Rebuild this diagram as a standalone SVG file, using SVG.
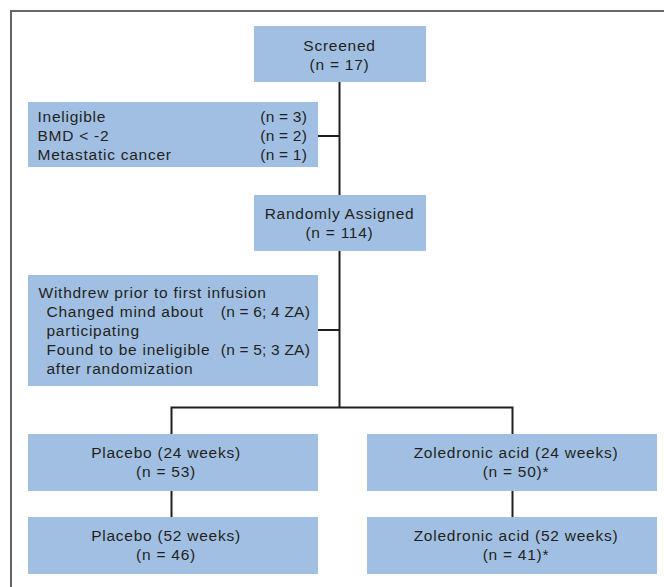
<svg xmlns="http://www.w3.org/2000/svg" width="664" height="587" viewBox="0 0 664 587">
<style>
.box{fill:#a1bfe2}
text{font-family:"Liberation Sans",Arial,sans-serif;font-size:15.5px;fill:#231f20;letter-spacing:0.75px}
.c{text-anchor:middle}
.e{text-anchor:end}
.n{letter-spacing:0.2px}
.ln{stroke:#231f20;stroke-width:2;fill:none}
</style>
<rect width="664" height="587" fill="#ffffff"/>
<path d="M11,587 V11 H664" stroke="#666666" stroke-width="2" fill="none"/>
<g id="connectors">
<path class="ln" d="M339.5,82 V407.5"/>
<path class="ln" d="M318,136 H339.5"/>
<path class="ln" d="M318,330 H339.5"/>
<path class="ln" d="M171.5,434 V407.5 H512.5 V434"/>
<path class="ln" d="M171.5,490 V517"/>
<path class="ln" d="M512.5,490 V517"/>
</g>
<g id="screened">
<rect class="box" x="254" y="26" width="172" height="56"/>
<text class="c" x="339.5" y="51">Screened</text>
<text class="c" x="339.5" y="70">(n = 17)</text>
</g>
<g id="ineligible">
<rect class="box" x="28" y="102" width="290" height="65"/>
<text x="37.5" y="122">Ineligible</text>
<text x="37.5" y="141">BMD &lt; -2</text>
<text x="37.5" y="160">Metastatic cancer</text>
<text class="e n" x="307" y="122">(n = 3)</text>
<text class="e n" x="307" y="141">(n = 2)</text>
<text class="e n" x="307" y="160">(n = 1)</text>
</g>
<g id="randomized">
<rect class="box" x="254" y="195" width="172" height="56"/>
<text class="c" x="339.5" y="219">Randomly Assigned</text>
<text class="c" x="339.5" y="238">(n = 114)</text>
</g>
<g id="withdrew">
<rect class="box" x="28" y="275" width="290" height="111"/>
<text x="38.5" y="298">Withdrew prior to first infusion</text>
<text x="46.5" y="317">Changed mind about</text>
<text x="46.5" y="336">participating</text>
<text x="46.5" y="355">Found to be ineligible</text>
<text x="46.5" y="374">after randomization</text>
<text class="e n" x="310" y="317">(n = 6; 4 ZA)</text>
<text class="e n" x="310" y="355">(n = 5; 3 ZA)</text>
</g>
<g id="placebo24">
<rect class="box" x="28" y="434" width="290" height="57"/>
<text class="c" x="166" y="458">Placebo (24 weeks)</text>
<text class="c" x="166" y="477">(n = 53)</text>
</g>
<g id="zol24">
<rect class="box" x="367" y="434" width="290" height="57"/>
<text class="c" x="516" y="458">Zoledronic acid (24 weeks)</text>
<text class="c" x="516" y="477">(n = 50)*</text>
</g>
<g id="placebo52">
<rect class="box" x="28" y="517" width="290" height="57"/>
<text class="c" x="166" y="541">Placebo (52 weeks)</text>
<text class="c" x="166" y="560">(n = 46)</text>
</g>
<g id="zol52">
<rect class="box" x="367" y="517" width="290" height="57"/>
<text class="c" x="516" y="541">Zoledronic acid (52 weeks)</text>
<text class="c" x="516" y="560">(n = 41)*</text>
</g>
</svg>
